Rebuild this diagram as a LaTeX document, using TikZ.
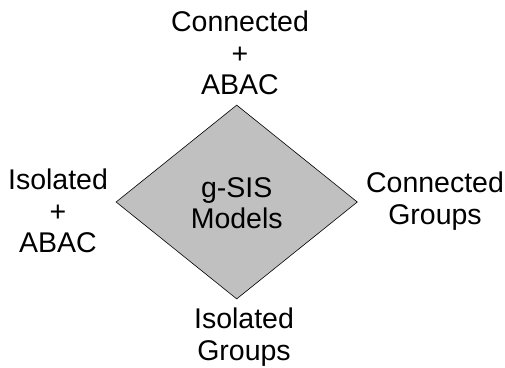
\documentclass[tikz,border=0pt]{standalone}
\usepackage{fontspec}
\setmainfont{Liberation Sans}
\usetikzlibrary{shapes.geometric}
\definecolor{dgray}{HTML}{C0C0C0}
\begin{document}
\begin{tikzpicture}[x=1pt,y=-1pt,
  lbl/.style={align=center,font=\fontsize{28.5}{31.5}\selectfont,inner sep=0pt},
  dia/.style={diamond,draw=black,fill=dgray,line width=0.6pt,minimum width=241.4pt,minimum height=194pt,inner sep=0pt,aspect=1.24}]
\useasboundingbox (0,0) rectangle (505,367);
\node[dia] (d) at (236.7,202) {};
\node[lbl] (m) at (236.7,203) {g-SIS\\Models};
\node[lbl] (t) at (240,53) {Connected\\+\\ABAC};
\node[lbl] (l) at (58,211) {Isolated\\+\\ABAC};
\node[lbl] (r) at (435,201) {Connected\\Groups};
\node[lbl] (b) at (244,337) {Isolated\\Groups};
\end{tikzpicture}
\end{document}
